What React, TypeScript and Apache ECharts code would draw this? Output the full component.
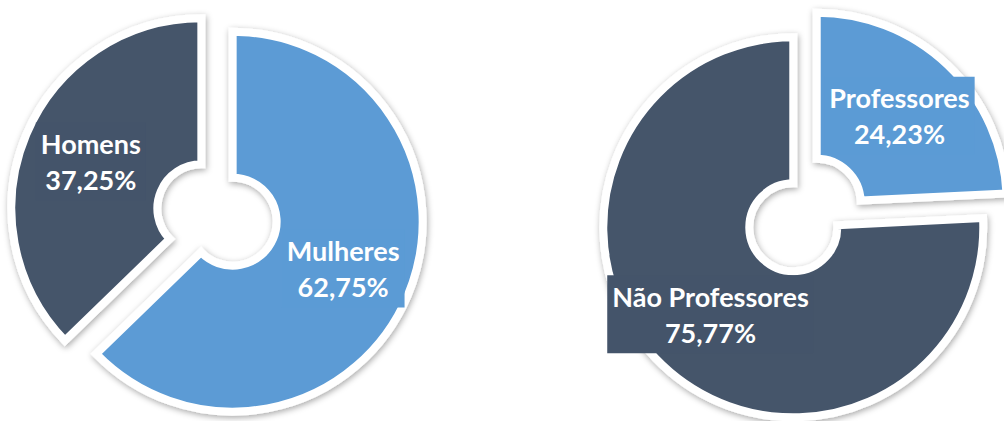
import React, { useEffect, useRef } from "react";
import * as echarts from "echarts";

const genderCategories = ["Mulheres", "Homens"];
const genderValues = [62.75, 37.25];
const roleCategories = ["Professores", "Não Professores"];
const roleValues = [24.23, 75.77];

const LIGHT = "#5B9BD5";
const DARK = "#44546A";

const fmt = (v: number) => v.toFixed(2).replace(".", ",") + "%";

function buildSeries(
  names: string[],
  values: number[],
  colors: string[],
  center: [number, number]
) {
  const data = names.map((n, i) => ({
    name: n,
    value: values[i],
    selected: true,
    itemStyle: { color: colors[i] },
    label: { backgroundColor: colors[i] },
    select: {
      itemStyle: { color: colors[i], borderColor: "#ffffff", borderWidth: 8 },
      label: { backgroundColor: colors[i], color: "#ffffff" },
    },
  }));
  return {
    type: "pie",
    center,
    radius: [44, 190],
    startAngle: 90,
    clockwise: true,
    selectedMode: "multiple",
    selectedOffset: 17,
    avoidLabelOverlap: false,
    itemStyle: {
      borderColor: "#ffffff",
      borderWidth: 8,
      borderJoin: "miter",
      shadowBlur: 6,
      shadowColor: "rgba(0,0,0,0.35)",
      shadowOffsetX: 1,
      shadowOffsetY: 2,
    },
    label: {
      show: true,
      position: "inside",
      color: "#ffffff",
      fontFamily: "Lato",
      fontWeight: "bold",
      fontSize: 27,
      lineHeight: 36,
      padding: [3, 5],
      formatter: (p: any) => `${p.name}\n${fmt(p.value)}`,
    },
    labelLine: { show: false },
    emphasis: { disabled: true },
    data,
  };
}

export default function App() {
  const ref = useRef<HTMLDivElement>(null);
  useEffect(() => {
    if (!ref.current) return;
    const chart = echarts.init(ref.current, undefined, { renderer: "svg" });
    chart.setOption({
      animation: false,
      backgroundColor: "#ffffff",
      series: [
        buildSeries(genderCategories, genderValues, [LIGHT, DARK], [217, 215]),
        buildSeries(roleCategories, roleValues, [LIGHT, DARK], [805, 215]),
      ],
    });
    return () => chart.dispose();
  }, []);
  return (
    <div
      ref={ref}
      style={{ position: "absolute", left: 0, top: 0, width: 1004, height: 421 }}
    />
  );
}
